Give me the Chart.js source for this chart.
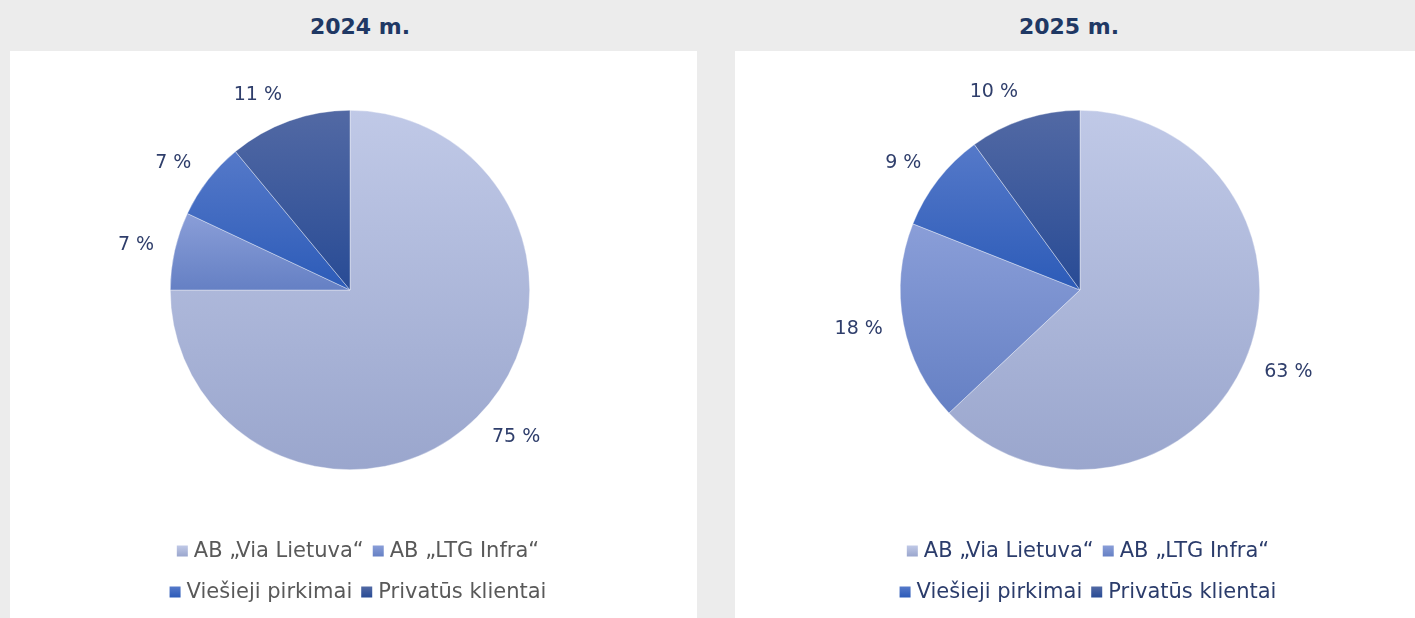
<!DOCTYPE html>
<html>
<head>
<meta charset="utf-8">
<script src="https://cdn.jsdelivr.net/npm/chart.js@4.4.1/dist/chart.umd.min.js"></script>
<style>
body{margin:0;background:#ececec;width:1415px;height:618px;overflow:hidden;position:relative;font-family:"DejaVu Sans",sans-serif}
.panel{position:absolute;top:51px;height:567px;background:#fff}
.ttl{position:absolute;top:14px;width:300px;text-align:center;font-weight:bold;font-size:22px;color:#1f3864}
</style>
</head>
<body>
<div class="ttl" style="left:210px">2024 m.</div>
<div class="ttl" style="left:919px">2025 m.</div>
<div class="panel" style="left:10px;width:687px"><canvas id="c2024" width="687" height="567"></canvas></div>
<div class="panel" style="left:735px;width:680px"><canvas id="c2025" width="680" height="567"></canvas></div>
<script>
// data
const categories=['AB „Via Lietuva“','AB „LTG Infra“','Viešieji pirkimai','Privatūs klientai'];
const values2024=[75,7,7,11];
const values2025=[63,18,9,10];

// slice gradient colours: top -> bottom
const sliceTop=['#c0c9e7','#8a9ed8','#5579c9','#5269a4'];
const sliceBottom=['#9aa6cd','#6580c4','#2c5bb8','#284b95'];

function arcYRange(x,y,r,a0,a1){
  let ys=[y,y+r*Math.sin(a0),y+r*Math.sin(a1)];
  const inRange=a=>{for(let k=-2;k<=2;k++){const b=a+k*2*Math.PI;if(b>=a0&&b<=a1)return true;}return false;};
  if(inRange(-Math.PI/2)) ys.push(y-r);
  if(inRange(Math.PI/2)) ys.push(y+r);
  return [Math.min(...ys),Math.max(...ys)];
}

const gradPlugin={
  id:'grad',
  beforeDatasetsDraw(chart){
    const ctx=chart.ctx;
    chart.getDatasetMeta(0).data.forEach((arc,i)=>{
      const p=arc.getProps(['x','y','startAngle','endAngle','outerRadius'],true);
      const [y0,y1]=arcYRange(p.x,p.y,p.outerRadius,p.startAngle,p.endAngle);
      const g=ctx.createLinearGradient(0,y0,0,y1);
      g.addColorStop(0,sliceTop[i]);g.addColorStop(1,sliceBottom[i]);
      arc.options.backgroundColor=g;
    });
  }
};

// percentage labels outside the pie
const labelPlugin={
  id:'pctLabels',
  afterDatasetsDraw(chart){
    const ctx=chart.ctx;
    const vals=chart.data.datasets[0].data;
    ctx.save();
    ctx.font='19px "DejaVu Sans"';
    ctx.fillStyle='#2f3e6b';
    ctx.textAlign='center';ctx.textBaseline='middle';
    chart.getDatasetMeta(0).data.forEach((arc,i)=>{
      const p=arc.getProps(['x','y','startAngle','endAngle','outerRadius'],true);
      const mid=(p.startAngle+p.endAngle)/2;
      const dx=Math.cos(mid),dy=Math.sin(mid);
      const txt=vals[i]+' %';
      const w=ctx.measureText(txt).width;
      const d=p.outerRadius+21;
      ctx.fillText(txt,p.x+dx*d+Math.sign(dx)*w/2,p.y+dy*d+dy*7);
    });
    ctx.restore();
  }
};

// two-row legend under the pie
const legendPlugin={
  id:'rowLegend',
  afterDraw(chart){
    const ctx=chart.ctx;
    const o=chart.options.plugins.rowLegend;
    const arc=chart.getDatasetMeta(0).data[0];
    const cx=arc.x+8;
    const rows=[[0,1],[2,3]],rowY=[500,541];
    ctx.save();
    ctx.font='21px "DejaVu Sans"';
    ctx.textBaseline='middle';
    rows.forEach((row,r)=>{
      const widths=row.map(i=>11+6+ctx.measureText(categories[i]).width);
      const total=widths.reduce((a,b)=>a+b,0)+9*(row.length-1);
      let x=cx-total/2;
      const y=rowY[r];
      row.forEach((i,k)=>{
        const g=ctx.createLinearGradient(0,y-5.5,0,y+5.5);
        g.addColorStop(0,sliceTop[i]);g.addColorStop(1,sliceBottom[i]);
        ctx.fillStyle=g;
        ctx.fillRect(x,y-5.5,11,11);
        ctx.fillStyle=o.color;
        ctx.fillText(categories[i],x+17,y+1);
        x+=widths[k]+9;
      });
    });
    ctx.restore();
  }
};

function makePie(id,values,pad,legendColor){
  return new Chart(document.getElementById(id),{
    type:'pie',
    data:{labels:categories,datasets:[{
      data:values,
      backgroundColor:c=>sliceBottom[c.dataIndex],
      borderColor:'rgba(255,255,255,0.6)',
      borderWidth:0.6
    }]},
    options:{
      responsive:false,
      animation:false,
      layout:{padding:pad},
      plugins:{legend:{display:false},tooltip:{enabled:false},rowLegend:{color:legendColor}}
    },
    plugins:[gradPlugin,labelPlugin,legendPlugin]
  });
}

makePie('c2024',values2024,{left:160,right:167,top:59,bottom:148},'#595959');
makePie('c2025',values2025,{left:165,right:155,top:59,bottom:148},'#2b3c6b');
</script>
</body>
</html>
